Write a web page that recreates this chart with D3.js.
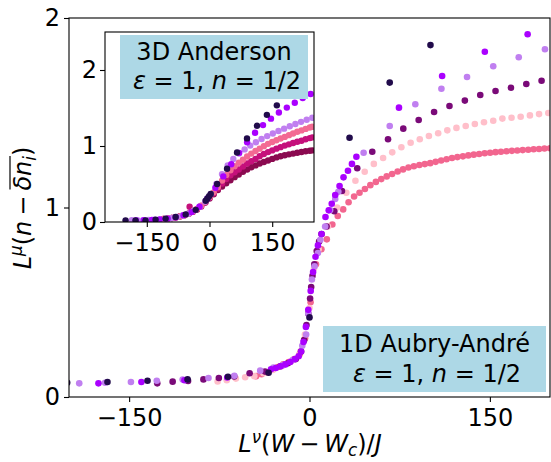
<!DOCTYPE html>
<html><head><meta charset="utf-8">
<script src="https://cdn.jsdelivr.net/npm/d3@7"></script>
<style>body{margin:0;background:#fff} svg{display:block} text{font-family:'DejaVu Sans',sans-serif}</style>
</head><body><svg id="c" width="551" height="462"></svg>
<script>
// ---------- axes / ticks ----------
const mainXDomain = [-200, 200];
const mainYDomain = [0, 2];
const mainXTicks = [-150, 0, 150];
const mainYTicks = [0, 1, 2];
const insetXDomain = [-250, 250];
const insetYDomain = [0, 2.5];
const insetXTicks = [-150, 0, 150];
const insetYTicks = [0, 1, 2];

// ---------- main panel: 1D Aubry-André ----------
const mainHotPink = [[-44.4,0.11],[-39.9,0.12],[-35.4,0.13],[-30.8,0.145],[-26.3,0.158],[-21.8,0.172],[-17.3,0.185],[-12.7,0.2],[-8.2,0.225],[-3.7,0.31],[0.9,0.5],[5.4,0.7],[9.9,0.78],[14.4,0.832],[19.0,0.91],[23.5,0.955],[28.0,0.99],[32.5,1.028],[37.1,1.058],[41.6,1.078],[46.1,1.098],[50.6,1.118],[55.2,1.135],[59.7,1.15],[64.2,1.164],[68.7,1.177],[73.3,1.19],[77.8,1.201],[82.3,1.211],[86.8,1.218],[91.4,1.224],[95.9,1.229],[100.4,1.234],[104.9,1.241],[109.5,1.248],[114.0,1.255],[118.5,1.261],[123.0,1.266],[127.6,1.27],[132.1,1.275],[136.6,1.279],[141.1,1.282],[145.7,1.286],[150.2,1.289],[154.7,1.292],[159.2,1.294],[163.8,1.297],[168.3,1.299],[172.8,1.301],[177.3,1.303],[181.9,1.305],[186.4,1.307],[190.9,1.309],[195.4,1.311],[200.0,1.313]];
const mainLightPink = [[-76.4,0.082],[-68.8,0.088],[-61.2,0.097],[-53.5,0.104],[-45.9,0.11],[-38.3,0.125],[-30.6,0.143],[-23.0,0.163],[-15.3,0.188],[-7.6,0.24],[-3.8,0.33],[0.0,0.47],[3.8,0.68],[7.6,0.78],[15.3,0.9],[23.0,1.0],[30.6,1.078],[38.2,1.141],[45.9,1.189],[53.5,1.23],[61.2,1.261],[68.8,1.291],[76.4,1.318],[84.1,1.342],[91.7,1.36],[99.3,1.377],[107.0,1.392],[114.6,1.407],[122.2,1.42],[129.9,1.43],[137.5,1.441],[145.1,1.45],[152.8,1.458],[160.4,1.469],[168.0,1.474],[175.6,1.479],[183.3,1.486],[190.9,1.493],[198.6,1.499]];
const mainDarkPurple = [[-126.6,0.072],[-113.8,0.081],[-101,0.085],[-88.2,0.093],[-75.4,0.1],[-62.6,0.108],[-49.8,0.125],[-37,0.134],[-24.2,0.162],[-18,0.178],[-11.4,0.2],[-7,0.24],[-4.5,0.3],[-2.5,0.38],[-1,0.44],[0.5,0.52],[1.4,0.58],[2.5,0.64],[4,0.7],[6,0.77],[8,0.82],[10,0.86],[14.2,0.9],[20.6,0.98],[27,1.087],[39.7,1.207],[52.2,1.294],[65.3,1.36],[78,1.416],[90.8,1.462],[103.6,1.504],[116.4,1.536],[129.2,1.564],[142,1.594],[154.7,1.615],[167.5,1.632],[180.3,1.652],[193,1.669]];
const mainLightPurple = [[-191.5,0.072],[-170,0.075],[-148.5,0.079],[-127,0.086],[-105.5,0.092],[-84,0.1],[-62.5,0.112],[-41,0.139],[-30,0.155],[-22,0.168],[-14,0.195],[-6,0.27],[-2.8,0.33],[-1,0.44],[2,0.62],[4.2,0.69],[7,0.76],[9,0.83],[13,0.9],[17.2,0.987],[21.4,1.045],[24,1.083],[45,1.289],[66.7,1.43],[88,1.545],[109.7,1.627],[131,1.689],[152.8,1.745],[174,1.793],[195.8,1.835]];
const mainBrightPurple = [[-175.5,0.072],[-139.8,0.079],[-104,0.088],[-68.4,0.103],[-32,0.146],[-28,0.153],[-24,0.162],[-20,0.172],[-16,0.185],[-12,0.2],[-9,0.215],[-7,0.24],[-5,0.29],[-3,0.37],[-1,0.46],[1,0.56],[3,0.66],[5,0.74],[7,0.8],[10,0.86],[13.3,0.95],[16,0.985],[18.5,1.02],[21.4,1.066],[25,1.113],[28.3,1.159],[32,1.194],[35.3,1.23],[39,1.268],[74.4,1.527],[110.3,1.694],[145.8,1.822],[181.4,1.914]];
const mainNavy = [[-201.5,0.075],[-168,0.079],[-134.7,0.086],[-101.4,0.093],[-67.8,0.107],[-34,0.128],[0,0.42],[33.3,1.368],[66.7,1.659],[100.6,1.857]];

// ---------- inset: 3D Anderson ----------
const insetMaroon = [[-110,0.04],[-100,0.045],[-90,0.052],[-80,0.062],[-70,0.075],[-60,0.09],[-50,0.11],[-40,0.135],[-30,0.165],[-20,0.205],[-10,0.255],[0,0.31],[10,0.365],[20,0.42],[30,0.468],[40,0.51],[50,0.55],[60,0.59],[70,0.625],[80,0.66],[90,0.69],[100,0.72],[110,0.745],[120,0.77],[130,0.79],[140,0.81],[150,0.83],[160,0.85],[170,0.865],[180,0.878],[190,0.89],[200,0.9],[210,0.912],[220,0.922],[230,0.93],[240,0.938],[246,0.943]];
const insetMagenta = [[-110,0.04],[-100,0.045],[-90,0.052],[-80,0.062],[-70,0.075],[-60,0.09],[-50,0.11],[-47.6,0.2],[-40,0.135],[-30,0.168],[-20,0.21],[-10,0.26],[0,0.318],[10,0.378],[20,0.44],[30,0.505],[40,0.565],[50,0.615],[60,0.655],[70,0.69],[80,0.73],[90,0.77],[100,0.8],[110,0.83],[120,0.865],[130,0.895],[140,0.92],[150,0.942],[160,0.965],[170,0.985],[180,1.005],[190,1.022],[200,1.04],[210,1.055],[220,1.07],[230,1.088],[240,1.104],[246,1.113]];
const insetPink = [[-110,0.04],[-100,0.045],[-90,0.052],[-80,0.062],[-70,0.075],[-60,0.09],[-50,0.11],[-40,0.137],[-30,0.17],[-20,0.215],[-10,0.265],[0,0.325],[10,0.39],[20,0.46],[30,0.545],[40,0.62],[50,0.68],[60,0.735],[70,0.78],[80,0.82],[90,0.862],[100,0.9],[110,0.935],[120,0.965],[130,0.998],[140,1.028],[150,1.053],[160,1.075],[170,1.098],[180,1.12],[190,1.143],[200,1.165],[210,1.187],[220,1.205],[230,1.225],[240,1.243],[246,1.253]];
const insetLightPurple = [[-186,0.023],[-172.5,0.024],[-159,0.025],[-145.5,0.027],[-132,0.03],[-118.5,0.035],[-105,0.04],[-91.5,0.05],[-78,0.065],[-64.5,0.085],[-51,0.11],[-37.5,0.15],[-24,0.2],[-10.5,0.27],[3,0.37],[16.5,0.5],[30,0.63],[43.5,0.745],[57,0.83],[70.5,0.9],[84,0.955],[97.5,1.005],[111,1.05],[124.5,1.093],[138,1.13],[151.5,1.165],[165,1.197],[178.5,1.228],[192,1.26],[205.5,1.29],[219,1.318],[232.5,1.345],[246,1.371]];
const insetBrightPurple = [[-176,0.022],[-157,0.024],[-138,0.028],[-119,0.035],[-100,0.045],[-81,0.062],[-62,0.09],[-43,0.13],[-24,0.2],[-5,0.31],[14,0.45],[33,0.6],[52,0.76],[71,0.91],[90,1.05],[109,1.175],[128,1.275],[147,1.36],[166,1.44],[185,1.505],[204,1.57],[223,1.63],[242,1.685]];
const insetNavy = [[-200.8,0.022],[-177,0.022],[-153,0.022],[-129,0.031],[-105,0.045],[-81,0.066],[-57,0.1],[-33,0.16],[-9,0.28],[-5,0.31],[-1,0.34],[3,0.37],[18.3,0.5],[42,0.7],[65.9,0.915],[89.7,1.1],[113.5,1.266],[137.3,1.41],[161.1,1.535]];

// ---------- colours (drawing order bottom -> top) ----------
const mainSeries = [
  {d: mainHotPink, c: "#f2668f"},
  {d: mainLightPink, c: "#ffbfca"},
  {d: mainDarkPurple, c: "#7a0a78"},
  {d: mainLightPurple, c: "#c07ff0"},
  {d: mainBrightPurple, c: "#aa00ff"},
  {d: mainNavy, c: "#210b4b"}
];
const insetSeries = [
  {d: insetMaroon, c: "#8b0a50"},
  {d: insetMagenta, c: "#c5107b"},
  {d: insetPink, c: "#f36a93"},
  {d: insetLightPurple, c: "#c07ff0"},
  {d: insetBrightPurple, c: "#aa00ff"},
  {d: insetNavy, c: "#210b4b"}
];

const FS = 24;
const svg = d3.select("#c");
const main = {l: 69, r: 550, t: 18, b: 397};
const ins = {l: 105, r: 314, t: 32, b: 222};

const mx = d3.scaleLinear().domain(mainXDomain).range([main.l, main.r]);
const my = d3.scaleLinear().domain(mainYDomain).range([main.b, main.t]);
const ix = d3.scaleLinear().domain(insetXDomain).range([ins.l, ins.r]);
const iy = d3.scaleLinear().domain(insetYDomain).range([ins.b, ins.t]);

const defs = svg.append("defs");
defs.append("clipPath").attr("id", "cm").append("rect")
  .attr("x", main.l).attr("y", main.t).attr("width", main.r - main.l).attr("height", main.b - main.t);
defs.append("clipPath").attr("id", "ci").append("rect")
  .attr("x", ins.l).attr("y", ins.t).attr("width", ins.r - ins.l).attr("height", ins.b - ins.t);

function styleAxis(g) {
  g.select(".domain").remove();
  g.selectAll(".tick line").attr("stroke", "#000").attr("stroke-width", 1.1);
  g.selectAll(".tick text").attr("font-size", FS).attr("fill", "#000")
    .attr("font-family", "'DejaVu Sans',sans-serif");
}

// main axes
svg.append("g").attr("transform", `translate(0,${main.b})`)
  .call(d3.axisBottom(mx).tickValues(mainXTicks).tickSize(5).tickPadding(7).tickFormat(d3.format("d")))
  .call(styleAxis);
svg.append("g").attr("transform", `translate(${main.l},0)`)
  .call(d3.axisLeft(my).tickValues(mainYTicks).tickSize(5).tickPadding(4).tickFormat(d3.format("d")))
  .call(styleAxis);

// main points
const gm = svg.append("g").attr("clip-path", "url(#cm)");
mainSeries.forEach(s => {
  gm.append("g").selectAll("circle").data(s.d).join("circle")
    .attr("cx", d => mx(d[0])).attr("cy", d => my(d[1])).attr("r", 3.3).attr("fill", s.c);
});
svg.append("rect").attr("x", main.l).attr("y", main.t).attr("width", main.r - main.l).attr("height", main.b - main.t)
  .attr("fill", "none").attr("stroke", "#000").attr("stroke-width", 1.1);

function mathText(sel, parts, size) {
  parts.forEach(p => {
    const t = sel.append("tspan").text(p.t);
    if (p.i) t.attr("font-style", "italic");
    if (p.s) t.attr("font-size", size * 0.7);
    if (p.dy) t.attr("dy", p.dy);
    if (p.dx) t.attr("dx", p.dx);
  });
  return sel;
}

// main label box
svg.append("rect").attr("x", 323).attr("y", 326).attr("width", 223).attr("height", 66).attr("fill", "#add8e6");
svg.append("text").attr("x", 434.5).attr("y", 352).attr("text-anchor", "middle").attr("font-size", FS).text("1D Aubry-André");
mathText(svg.append("text").attr("x", 437).attr("y", 382).attr("text-anchor", "middle").attr("font-size", FS),
  [{t: "ε", i: 1}, {t: " = 1, "}, {t: "n", i: 1}, {t: " = 1/2"}], FS);

// inset
svg.append("rect").attr("x", ins.l).attr("y", ins.t).attr("width", ins.r - ins.l).attr("height", ins.b - ins.t).attr("fill", "#fff");
const gi = svg.append("g").attr("clip-path", "url(#ci)");
insetSeries.forEach(s => {
  gi.append("g").selectAll("circle").data(s.d).join("circle")
    .attr("cx", d => ix(d[0])).attr("cy", d => iy(d[1])).attr("r", 3.2).attr("fill", s.c);
});
svg.append("rect").attr("x", 120).attr("y", 35).attr("width", 188).attr("height", 64).attr("fill", "#add8e6");
svg.append("text").attr("x", 214).attr("y", 60).attr("text-anchor", "middle").attr("font-size", FS).text("3D Anderson");
mathText(svg.append("text").attr("x", 217).attr("y", 89).attr("text-anchor", "middle").attr("font-size", FS),
  [{t: "ε", i: 1}, {t: " = 1, "}, {t: "n", i: 1}, {t: " = 1/2"}], FS);
svg.append("rect").attr("x", ins.l).attr("y", ins.t).attr("width", ins.r - ins.l).attr("height", ins.b - ins.t)
  .attr("fill", "none").attr("stroke", "#000").attr("stroke-width", 1.1);
svg.append("g").attr("transform", `translate(0,${ins.b})`)
  .call(d3.axisBottom(ix).tickValues(insetXTicks).tickSize(5).tickPadding(7).tickFormat(d3.format("d")))
  .call(styleAxis);
svg.append("g").attr("transform", `translate(${ins.l},0)`)
  .call(d3.axisLeft(iy).tickValues(insetYTicks).tickSize(5).tickPadding(3).tickFormat(d3.format("d")))
  .call(styleAxis);

// x label
mathText(svg.append("text").attr("x", 310).attr("y", 452).attr("text-anchor", "middle").attr("font-size", FS),
  [{t: "L", i: 1}, {t: "ν", i: 1, s: 1, dy: -9}, {t: "(", dy: 9}, {t: "W", i: 1}, {t: "−", dx: 5},
   {t: "W", i: 1, dx: 5}, {t: "c", i: 1, s: 1, dy: 4}, {t: ")/", dy: -4}, {t: "J", i: 1}], FS);

// y label
const gy = svg.append("g").attr("transform", "translate(31,208) rotate(-90)");
const yl = mathText(gy.append("text").attr("x", 0).attr("y", 0).attr("text-anchor", "middle").attr("font-size", FS),
  [{t: "L", i: 1}, {t: "μ", i: 1, s: 1, dy: -9}, {t: "(", dy: 9}, {t: "n", i: 1}, {t: "−", dx: 5},
   {t: "δn", i: 1, dx: 5}, {t: "i", i: 1, s: 1, dy: 5}, {t: ")", dy: -5}], FS);
const yn = yl.node();
const p0 = yn.getStartPositionOfChar(5).x, p1 = yn.getEndPositionOfChar(7).x;
gy.append("line").attr("x1", p0 + 1).attr("x2", p1).attr("y1", -21).attr("y2", -21)
  .attr("stroke", "#000").attr("stroke-width", 1.2);
</script>
</body></html>
